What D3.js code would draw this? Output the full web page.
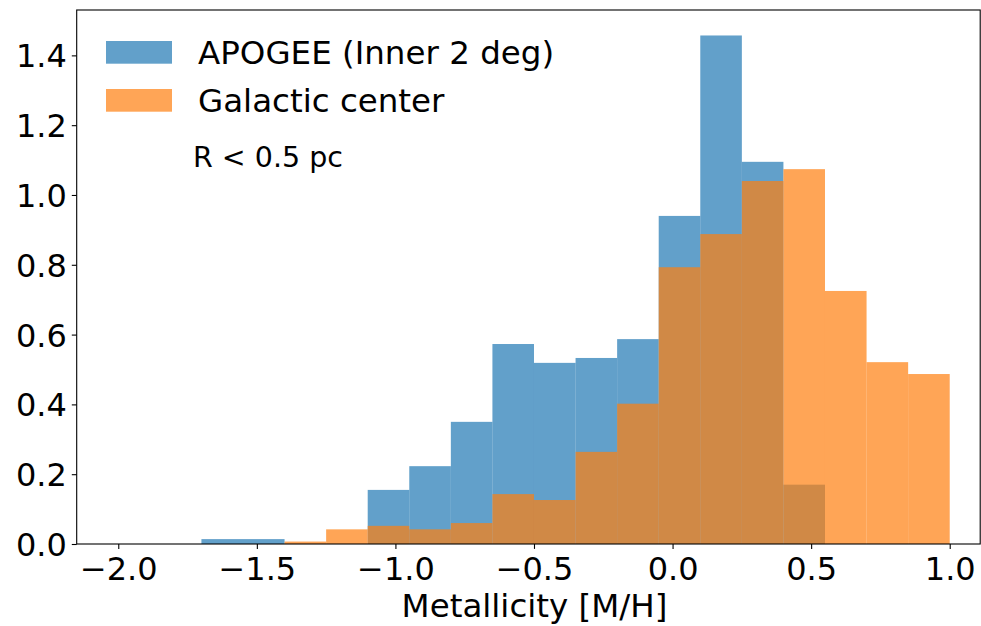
<!DOCTYPE html>
<html>
<head>
<meta charset="utf-8">
<script src="https://cdn.jsdelivr.net/npm/d3@7.9.0/dist/d3.min.js"></script>
<style>
  body { margin: 0; background: #fff; }
  svg { display: block; font-family: "DejaVu Sans", sans-serif; }
</style>
</head>
<body>
<div id="chart"></div>
<script>
// histogram bins shared by both samples
const binEdges = [-2.0, -1.85, -1.7, -1.55, -1.4, -1.25, -1.1, -0.95, -0.8, -0.65, -0.5,
                  -0.35, -0.2, -0.05, 0.1, 0.25, 0.4, 0.55, 0.7, 0.85, 1.0];

// normalised counts per bin
const apogee = [0, 0, 0.014, 0.014, 0, 0, 0.155, 0.223, 0.350, 0.573, 0.519,
                0.533, 0.587, 0.940, 1.457, 1.095, 0.170, 0, 0, 0];
const galCenter = [0, 0, 0, 0, 0.007, 0.042, 0.052, 0.042, 0.060, 0.143, 0.126,
                   0.264, 0.402, 0.793, 0.888, 1.040, 1.074, 0.725, 0.521, 0.487];

const series = [
  { name: 'APOGEE (Inner 2 deg)', values: apogee, color: '#1f77b4' },
  { name: 'Galactic center', values: galCenter, color: '#ff7f0e' },
];

const xTicks = [-2.0, -1.5, -1.0, -0.5, 0.0, 0.5, 1.0];
const yTicks = [0.0, 0.2, 0.4, 0.6, 0.8, 1.0, 1.2, 1.4];

const width = 981;
const height = 626;
const area = { left: 76.7, right: 980.2, top: 10, bottom: 544 };

const svg = d3.select('#chart')
  .append('svg')
  .attr('width', width)
  .attr('height', height);

const x = d3.scaleLinear().domain([-2.15, 1.11]).range([area.left, area.right]);
const y = d3.scaleLinear().domain([0, 1.53]).range([area.bottom, area.top]);

// bars, blue first so orange sits on top
series.forEach((s) => {
  const bins = s.values.map((v, i) => ({ x0: binEdges[i], x1: binEdges[i + 1], v }))
    .filter((d) => d.v > 0);
  svg.append('g')
    .selectAll('rect')
    .data(bins)
    .join('rect')
    .attr('x', (d) => x(d.x0))
    .attr('width', (d) => x(d.x1) - x(d.x0))
    .attr('y', (d) => y(d.v))
    .attr('height', (d) => y(0) - y(d.v))
    .attr('fill', s.color)
    .attr('fill-opacity', 0.7);
});

// axes
const tickFont = 32;
const xAxis = svg.append('g')
  .attr('transform', `translate(0, ${area.bottom})`)
  .call(d3.axisBottom(x).tickValues(xTicks).tickFormat(d3.format('.1f')).tickSize(4.9).tickPadding(4.9));
xAxis.select('.domain').remove();
xAxis.selectAll('line').attr('stroke', '#000').attr('stroke-width', 1.1);
xAxis.selectAll('text')
  .attr('y', 36)
  .attr('dy', null)
  .attr('fill', '#000')
  .style('font-size', tickFont + 'px')
  .style('font-family', '"DejaVu Sans", sans-serif');

const yAxis = svg.append('g')
  .attr('transform', `translate(${area.left}, 0)`)
  .call(d3.axisLeft(y).tickValues(yTicks).tickFormat(d3.format('.1f')).tickSize(4.9).tickPadding(4.9));
yAxis.select('.domain').remove();
yAxis.selectAll('line').attr('stroke', '#000').attr('stroke-width', 1.1);
yAxis.selectAll('text')
  .attr('dy', '0.36em')
  .attr('fill', '#000')
  .style('font-size', tickFont + 'px')
  .style('font-family', '"DejaVu Sans", sans-serif');

// frame
svg.append('rect')
  .attr('x', area.left)
  .attr('y', area.top)
  .attr('width', area.right - area.left)
  .attr('height', area.bottom - area.top)
  .attr('fill', 'none')
  .attr('stroke', '#000')
  .attr('stroke-width', 1.1);

svg.append('text')
  .attr('x', 534.5)
  .attr('y', 617)
  .attr('text-anchor', 'middle')
  .style('font-size', '32.5px')
  .text('Metallicity [M/H]');

// legend
const legend = svg.append('g');
series.forEach((s, i) => {
  legend.append('rect')
    .attr('x', 106)
    .attr('y', 41 + i * 48)
    .attr('width', 66)
    .attr('height', 22.7)
    .attr('fill', s.color)
    .attr('fill-opacity', 0.7);
  legend.append('text')
    .attr('x', 198)
    .attr('y', 64 + i * 47.5)
    .style('font-size', '32.5px')
    .text(s.name);
});

svg.append('text')
  .attr('x', 193)
  .attr('y', 166.5)
  .style('font-size', '28.5px')
  .text('R < 0.5 pc');
</script>
</body>
</html>
